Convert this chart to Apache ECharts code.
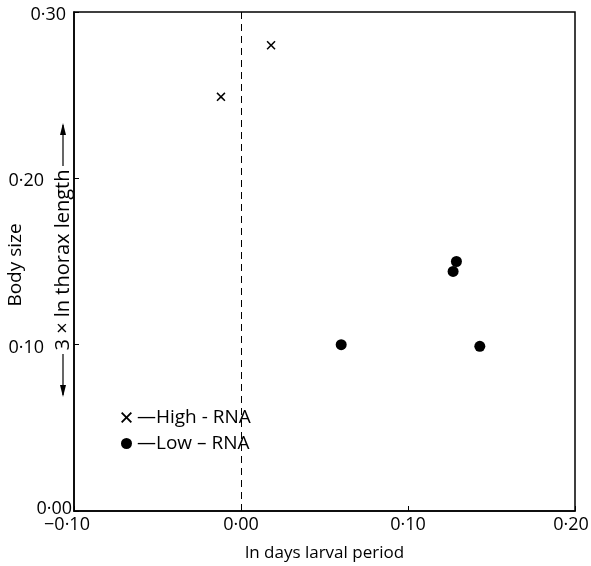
<!DOCTYPE html>
<html><head><meta charset="utf-8">
<script src="https://cdn.jsdelivr.net/npm/echarts@6/dist/echarts.min.js"></script>
<style>html,body{margin:0;padding:0;background:#fff}#c{width:591px;height:566px}</style>
</head><body><div id="c"></div>
<script>
const highName = 'High - RNA';
const lowName = 'Low – RNA';
const highRNA = [[-0.012, 0.249], [0.018, 0.280]];
const lowRNA = [[0.060, 0.100], [0.143, 0.099], [0.127, 0.144], [0.129, 0.150]];
const xTicks = [-0.10, 0.00, 0.10, 0.20];
const yTicks = [0.00, 0.10, 0.20, 0.30];
const refLineX = [0];
const xTitle = 'ln days larval period';
const yTitle = 'Body size';
const yTitle2 = '3 × ln thorax length';

const FONT = 'Open Sans';
function fmt(v){
  const s = Math.abs(v).toFixed(2).replace('.', '·');
  return (v < -1e-9 ? '−' : '') + s;
}
function near(a, b){ return Math.abs(a - b) < 1e-6; }
function xFmt(v){
  if (near(v, -0.1)) return '{l|' + fmt(v) + '}';
  if (near(v, 0.2)) return '{r|' + fmt(v) + '}';
  return '{n|' + fmt(v) + '}';
}
function yFmt(v){
  if (near(v, 0.1) || near(v, 0.2)) return '{m|' + fmt(v) + '}';
  if (near(v, 0.3)) return '{t|' + fmt(v) + '}';
  return '{z|' + fmt(v) + '}';
}
const lbl = {fontFamily: FONT, fontSize: 18, color: '#000'};
const crossPath = 'path://M0,1.2 L1.2,0 L5,3.8 L8.8,0 L10,1.2 L6.2,5 L10,8.8 L8.8,10 L5,6.2 L1.2,10 L0,8.8 L3.8,5 Z';

const chart = echarts.init(document.getElementById('c'), null, {renderer:'canvas'});
chart.setOption({
  animation: false,
  backgroundColor: '#fff',
  grid: {left: 74, right: 16, top: 12, bottom: 55, containLabel: false, outerBoundsMode: 'none',
         show: true, borderColor: '#000', borderWidth: 1.5},
  xAxis: {
    type: 'value', min: xTicks[0], max: xTicks[xTicks.length-1], interval: 0.1,
    name: xTitle, nameLocation: 'middle', nameGap: 34,
    nameTextStyle: {fontFamily: FONT, fontSize: 17, color: '#000'},
    axisLine: {show: true, onZero: false, lineStyle: {color: '#000', width: 1.5}},
    axisTick: {show: true, inside: true, length: 5, lineStyle: {color: '#000'}},
    splitLine: {show: false},
    axisLabel: {formatter: xFmt, margin: 5, hideOverlap: false,
      rich: {n: Object.assign({}, lbl), l: Object.assign({padding: [0, 14, 0, 0]}, lbl),
             r: Object.assign({padding: [0, 8, 0, 0]}, lbl)}}
  },
  yAxis: {
    type: 'value', min: yTicks[0], max: yTicks[yTicks.length-1], interval: 0.1,
    axisLine: {show: true, onZero: false, lineStyle: {color: '#000', width: 1.5}},
    axisTick: {show: true, inside: true, length: 5, lineStyle: {color: '#000'}},
    splitLine: {show: false},
    axisLabel: {formatter: yFmt, margin: 2, hideOverlap: false,
      rich: {z: Object.assign({padding: [0, 0, 4, 0]}, lbl), t: Object.assign({padding: [6, 6, 0, 0]}, lbl),
             m: Object.assign({padding: [6, 28, 0, 0]}, lbl)}}
  },
  legend: {
    orient: 'vertical', left: 116, top: 403, itemGap: 7,
    itemWidth: 11, itemHeight: 11,
    data: [{name: highName, icon: crossPath, itemStyle:{color:'#000'}}, {name: lowName, icon: 'circle', itemStyle:{color:'#000'}}],
    formatter: n => '—' + n,
    textStyle: {fontFamily: FONT, fontSize: 19, color: '#000'}
  },
  series: [
    {type: 'scatter', name: highName, data: highRNA, symbol: crossPath, symbolSize: 9,
     itemStyle: {color: '#000', opacity: 1},
     markLine: {silent: true, symbol: ['none','none'], label: {show:false},
       lineStyle: {type: [7,5], color: '#000', width: 1},
       data: refLineX.map(v => ({xAxis: v}))}},
    {type: 'scatter', name: lowName, data: lowRNA, symbol: 'circle', symbolSize: 11,
     itemStyle: {color: '#000', opacity: 1}}
  ],
  graphic: [
    {type: 'text', x: 16, y: 265, rotation: Math.PI/2,
     style: {text: yTitle, x: 0, y: 0, align: 'center', verticalAlign: 'middle', font: '19px "Open Sans"', fill: '#000'}},
    {type: 'group', x: 63, y: 260, children: [
      {type: 'text', rotation: Math.PI/2, style: {text: yTitle2, x: 0, y: 0, align: 'center', verticalAlign: 'middle',
        font: '20px "Open Sans"', fill: '#000'}},
      {type: 'line', shape: {x1: 0, y1: -94, x2: 0, y2: -135}, style: {stroke: '#000', lineWidth: 1.2}},
      {type: 'polygon', shape: {points: [[0,-137],[-3,-125],[3,-125]]}, style: {fill: '#000'}},
      {type: 'line', shape: {x1: 0, y1: 94, x2: 0, y2: 135}, style: {stroke: '#000', lineWidth: 1.2}},
      {type: 'polygon', shape: {points: [[0,137],[-3,125],[3,125]]}, style: {fill: '#000'}}
    ]}
  ]
});
</script></body></html>
